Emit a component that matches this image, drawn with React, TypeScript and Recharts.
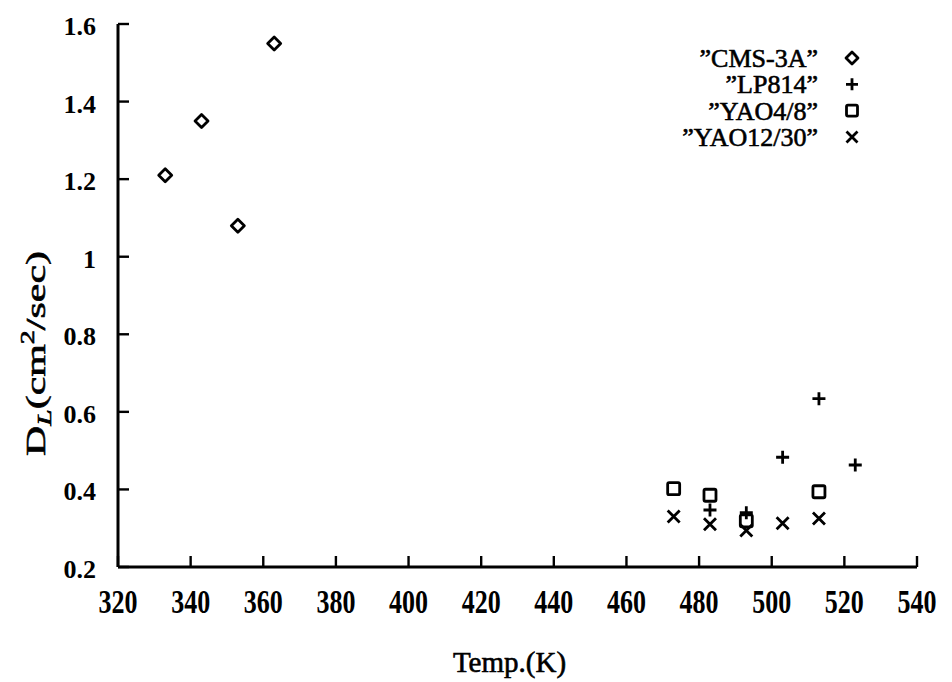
import React from "react";
import { Legend, Scatter, ScatterChart, XAxis, YAxis } from "recharts";

const SERIF = '"Liberation Serif", "Times New Roman", serif';
const INK = "#000";

// temperature (K) against longitudinal dispersion D_L (cm^2/sec), one pair of arrays per sample
const cmsTemp = [333, 343, 353, 363];
const cmsDL = [1.21, 1.35, 1.08, 1.55];

const lpTemp = [483, 493, 503, 513, 523];
const lpDL = [0.347, 0.34, 0.483, 0.634, 0.463];

const yao48Temp = [473, 483, 493, 513];
const yao48DL = [0.402, 0.385, 0.319, 0.394];

const yao1230Temp = [473, 483, 493, 503, 513];
const yao1230DL = [0.33, 0.31, 0.294, 0.313, 0.325];

const xTicks = [320, 340, 360, 380, 400, 420, 440, 460, 480, 500, 520, 540];
const yTicks = [0.2, 0.4, 0.6, 0.8, 1.0, 1.2, 1.4, 1.6];

type Marker = "diamond" | "plus" | "square" | "cross";

const zip = (t: number[], d: number[]) => t.map((v, i) => ({ t: v, d: d[i] }));

const SERIES: { name: string; marker: Marker; data: { t: number; d: number }[] }[] = [
  { name: "\u201DCMS-3A\u201D", marker: "diamond", data: zip(cmsTemp, cmsDL) },
  { name: "\u201DLP814\u201D", marker: "plus", data: zip(lpTemp, lpDL) },
  { name: "\u201DYAO4/8\u201D", marker: "square", data: zip(yao48Temp, yao48DL) },
  { name: "\u201DYAO12/30\u201D", marker: "cross", data: zip(yao1230Temp, yao1230DL) },
];

// a thin outline makes the serif text as heavy as the printed labels
const heavy = { stroke: INK, strokeWidth: 0.6 } as const;

function Glyph({ kind, cx, cy, r = 6.5 }: { kind: Marker; cx: number; cy: number; r?: number }) {
  const common = { stroke: INK, strokeWidth: 2.8, fill: "none" } as const;
  if (kind === "diamond") {
    return <path d={`M${cx},${cy - r}L${cx + r},${cy}L${cx},${cy + r}L${cx - r},${cy}Z`} {...common} strokeLinejoin="round" />;
  }
  if (kind === "plus") {
    return <path d={`M${cx - r},${cy}H${cx + r}M${cx},${cy - r}V${cy + r}`} {...common} />;
  }
  if (kind === "square") {
    const s = r - 0.5;
    return <rect x={cx - s} y={cy - s} width={s * 2} height={s * 2} rx={1.5} {...common} />;
  }
  const c = r - 0.5;
  return <path d={`M${cx - c},${cy - c}L${cx + c},${cy + c}M${cx - c},${cy + c}L${cx + c},${cy - c}`} {...common} />;
}

const shapeFor = (kind: Marker) => (p: any) => <Glyph kind={kind} cx={p.cx} cy={p.cy} />;

// gnuplot-style inward ticks on all four sides
function BottomTick({ x, y, payload }: any) {
  return (
    <g>
      <line x1={x} y1={y} x2={x} y2={y - 11} stroke={INK} strokeWidth={2.4} />
      <text
        transform={`translate(${x},${y + 46}) scale(1,1.3)`}
        textAnchor="middle"
        fontFamily={SERIF}
        fontWeight={700}
        fontSize={26}
        fill={INK}
      >
        {payload.value}
      </text>
    </g>
  );
}

function TopTick({ x, y }: any) {
  return <line x1={x} y1={y} x2={x} y2={y + 11} stroke={INK} strokeWidth={2.4} />;
}

function LeftTick({ x, y, payload }: any) {
  const label = String(Number(Number(payload.value).toFixed(1)));
  return (
    <g>
      <line x1={x} y1={y} x2={x + 11} y2={y} stroke={INK} strokeWidth={2.4} />
      <text x={x - 22} y={y + 11} textAnchor="end" fontFamily={SERIF} fontWeight={700} fontSize={26} fill={INK}>
        {label}
      </text>
    </g>
  );
}

function RightTick({ x, y }: any) {
  return <line x1={x} y1={y} x2={x - 11} y2={y} stroke={INK} strokeWidth={2.4} />;
}

function YTitle({ viewBox }: any) {
  const cx = 45;
  const cy = viewBox.y + viewBox.height / 2 + 58;
  return (
    <text
      transform={`translate(${cx},${cy}) rotate(-90)`}
      textAnchor="middle"
      fontFamily={SERIF}
      fontSize={27}
      fill={INK}
      {...heavy}
      textLength={205}
      lengthAdjust="spacingAndGlyphs"
    >
      D
      <tspan fontSize={19} fontStyle="italic" dy={6}>L</tspan>
      <tspan dy={-6}>(cm</tspan>
      <tspan fontSize={18} dy={-11}>2</tspan>
      <tspan dy={11}>/sec)</tspan>
    </text>
  );
}

function XTitle({ viewBox }: any) {
  return (
    <text
      x={viewBox.x + viewBox.width / 2 - 8}
      y={viewBox.y + 105}
      textAnchor="middle"
      fontFamily={SERIF}
      fontSize={29}
      fill={INK}
      {...heavy}
    >
      Temp.(K)
    </text>
  );
}

function KeyBox() {
  return (
    <svg width={220} height={130} style={{ display: "block", overflow: "visible" }}>
      {SERIES.map((s, i) => {
        const cy = 23 + i * 26.3;
        return (
          <g key={s.name}>
            <text x={158} y={cy + 9} textAnchor="end" fontFamily={SERIF} fontSize={26} fill={INK} {...heavy}>
              {s.name}
            </text>
            <Glyph kind={s.marker} cx={192} cy={cy} r={6} />
          </g>
        );
      })}
    </svg>
  );
}

const frame = { stroke: INK, strokeWidth: 3 };

export default function App() {
  return (
    <div style={{ position: "absolute", left: 0, top: 0, width: 952, height: 682, background: "#fff" }}>
      <ScatterChart width={952} height={682} margin={{ top: 24, right: 35, bottom: 75, left: 58 }}>
        <XAxis
          xAxisId="b"
          type="number"
          dataKey="t"
          domain={[320, 540]}
          ticks={xTicks}
          allowDataOverflow
          height={40}
          axisLine={frame}
          tickLine={false}
          tickSize={0}
          tickMargin={0}
          tick={BottomTick}
          interval={0}
          label={<XTitle />}
        />
        <XAxis
          xAxisId="t"
          orientation="top"
          type="number"
          dataKey="t"
          domain={[320, 540]}
          ticks={xTicks}
          allowDataOverflow
          height={0}
          axisLine={frame}
          tickLine={false}
          tickSize={0}
          tickMargin={0}
          tick={TopTick}
          interval={0}
        />
        <YAxis
          yAxisId="l"
          type="number"
          dataKey="d"
          domain={[0.2, 1.6]}
          ticks={yTicks}
          allowDataOverflow
          width={60}
          axisLine={frame}
          tickLine={false}
          tickSize={0}
          tickMargin={0}
          tick={LeftTick}
          interval={0}
          label={<YTitle />}
        />
        <YAxis
          yAxisId="r"
          orientation="right"
          type="number"
          dataKey="d"
          domain={[0.2, 1.6]}
          ticks={yTicks}
          allowDataOverflow
          width={0}
          axisLine={frame}
          tickLine={false}
          tickSize={0}
          tickMargin={0}
          tick={RightTick}
          interval={0}
        />
        {SERIES.map((s) => (
          <Scatter
            key={s.name}
            name={s.name}
            data={s.data}
            xAxisId="b"
            yAxisId="l"
            shape={shapeFor(s.marker)}
            isAnimationActive={false}
          />
        ))}
        <Legend
          layout="vertical"
          align="center"
          verticalAlign="middle"
          content={() => <KeyBox />}
          wrapperStyle={{ position: "absolute", left: 660, top: 35, width: 220, height: 130 }}
        />
      </ScatterChart>
    </div>
  );
}
